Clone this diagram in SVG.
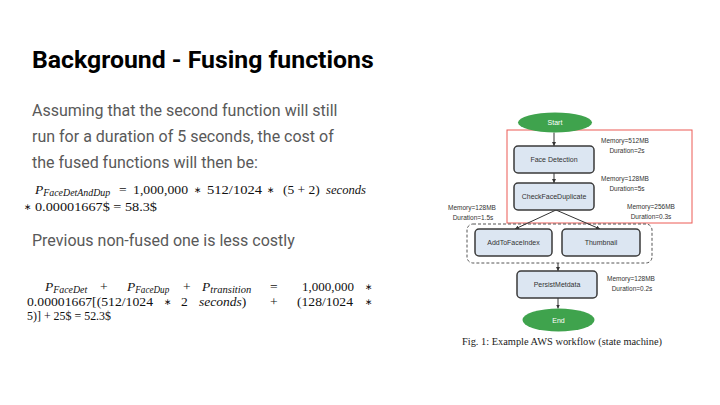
<svg xmlns="http://www.w3.org/2000/svg" width="720" height="405" viewBox="0 0 720 405">
<defs>
<marker id="ah" viewBox="0 0 6 6" refX="6" refY="3" markerWidth="4" markerHeight="4" orient="auto" markerUnits="userSpaceOnUse">
<path d="M0,0 L6,3 L0,6 z" fill="#333"/>
</marker>
<style>
.title{font-family:Roboto,"Liberation Sans",sans-serif;font-weight:bold;font-size:24.8px;fill:#000}
.body{font-family:Roboto,"Liberation Sans",sans-serif;font-size:16px;fill:#595959}
.eq{font-family:"Liberation Serif",serif;font-size:13.5px;fill:#111}
.st{font-family:"DejaVu Sans",sans-serif;font-size:9px;fill:#111}
.sub{font-family:"Liberation Serif",serif;font-style:italic;font-size:10px;fill:#111}
.it{font-style:italic}
.box{fill:#dce6f2;stroke:#3a3a3a;stroke-width:1.5}
.term{fill:#3fa34d}
.lbl{font-family:"Liberation Sans",sans-serif;font-size:7px;fill:#333;text-anchor:middle}
.wl{font-family:"Liberation Sans",sans-serif;font-size:7px;fill:#fff;text-anchor:middle}
.ml{font-family:"Liberation Sans",sans-serif;font-size:6.5px;fill:#333;text-anchor:middle}
.conn{stroke:#333;stroke-width:1;fill:none;marker-end:url(#ah)}
.cap{font-family:"Liberation Serif",serif;font-size:10px;fill:#222}
</style>
</defs>
<rect width="720" height="405" fill="#fff"/>
<text class="title" x="32" y="68">Background - Fusing functions</text>
<text class="body" x="32" y="116">Assuming that the second function will still</text>
<text class="body" x="32" y="142">run for a duration of 5 seconds, the cost of</text>
<text class="body" x="32" y="168">the fused functions will then be:</text>
<g id="eq1">
<text class="eq" x="35" y="194"><tspan class="it">P</tspan><tspan class="sub" dy="1.5" textLength="67" lengthAdjust="spacingAndGlyphs">FaceDetAndDup</tspan></text>
<text class="eq" x="119" y="194">=</text>
<text class="eq" x="133" y="194" textLength="55" lengthAdjust="spacingAndGlyphs">1,000,000</text>
<text class="st" x="194" y="193">∗</text>
<text class="eq" x="207" y="194" textLength="55" lengthAdjust="spacingAndGlyphs">512/1024</text>
<text class="st" x="267" y="193">∗</text>
<text class="eq" x="283" y="194">(5 + 2)</text>
<text class="eq it" x="326" y="194" textLength="40" lengthAdjust="spacingAndGlyphs">seconds</text>
<text class="st" x="24" y="210">∗</text>
<text class="eq" x="35" y="211" textLength="122" lengthAdjust="spacingAndGlyphs">0.00001667$ = 58.3$</text>
</g>
<text class="body" x="32" y="246">Previous non-fused one is less costly</text>
<g id="eq2">
<text class="eq" x="45" y="291"><tspan class="it">P</tspan><tspan class="sub" dy="1.5" textLength="34" lengthAdjust="spacingAndGlyphs">FaceDet</tspan></text>
<text class="eq" x="100" y="291">+</text>
<text class="eq" x="127" y="291"><tspan class="it">P</tspan><tspan class="sub" dy="1.5" textLength="34" lengthAdjust="spacingAndGlyphs">FaceDup</tspan></text>
<text class="eq" x="183" y="291">+</text>
<text class="eq" x="202" y="291"><tspan class="it">P</tspan><tspan class="sub" dy="1.5" textLength="41" lengthAdjust="spacingAndGlyphs">transition</tspan></text>
<text class="eq" x="270" y="291">=</text>
<text class="eq" x="302" y="291" textLength="52" lengthAdjust="spacingAndGlyphs">1,000,000</text>
<text class="st" x="365" y="290">∗</text>
<text class="eq" x="27" y="305.5" textLength="126" lengthAdjust="spacingAndGlyphs">0.00001667[(512/1024</text>
<text class="st" x="164" y="304.5">∗</text>
<text class="eq" x="181" y="305.5">2</text>
<text class="eq" x="199" y="305.5"><tspan class="it">seconds</tspan>)</text>
<text class="eq" x="270" y="305.5">+</text>
<text class="eq" x="297" y="305.5" textLength="56" lengthAdjust="spacingAndGlyphs">(128/1024</text>
<text class="st" x="365" y="304.5">∗</text>
<text class="eq" x="27" y="320" textLength="84" lengthAdjust="spacingAndGlyphs">5)] + 25$ = 52.3$</text>
</g>
<rect x="507" y="130" width="185" height="93" fill="none" stroke="#ec5a55" stroke-width="1"/>
<rect x="467" y="224" width="185" height="39" rx="6" fill="none" stroke="#555" stroke-width="1" stroke-dasharray="3,2"/>
<g id="connectors">
<line class="conn" x1="554" y1="132.5" x2="554" y2="146"/>
<line class="conn" x1="554" y1="173" x2="554" y2="183"/>
<line class="conn" x1="556" y1="210" x2="515" y2="229"/>
<line class="conn" x1="556" y1="210" x2="600" y2="229"/>
<line class="conn" x1="558" y1="263" x2="558" y2="271"/>
<line class="conn" x1="558" y1="298" x2="558" y2="308.5"/>
</g>
<g id="start"><ellipse class="term" cx="555" cy="122.5" rx="37" ry="10"/><text class="wl" x="555" y="125">Start</text></g>
<g id="faceDetection"><rect class="box" x="514" y="146" width="80" height="27" rx="4"/><text class="lbl" x="554" y="162">Face Detection</text></g>
<g id="checkFaceDuplicate"><rect class="box" x="514" y="183" width="80" height="27" rx="4"/><text class="lbl" x="554" y="199">CheckFaceDuplicate</text></g>
<g id="addToFaceIndex"><rect class="box" x="475" y="229" width="77" height="27" rx="4"/><text class="lbl" x="513.5" y="245">AddToFaceIndex</text></g>
<g id="thumbnail"><rect class="box" x="562" y="229" width="78" height="27" rx="4"/><text class="lbl" x="601" y="245">Thumbnail</text></g>
<g id="persistMetdata"><rect class="box" x="517" y="271" width="80" height="27" rx="4"/><text class="lbl" x="557" y="287">PersistMetdata</text></g>
<g id="end"><ellipse class="term" cx="558.5" cy="320" rx="36" ry="11.5"/><text class="wl" x="558.5" y="322.5">End</text></g>
<g id="labels">
<text class="ml" x="625" y="142.5">Memory=512MB</text>
<text class="ml" x="627" y="152.5">Duration=2s</text>
<text class="ml" x="625" y="180.5">Memory=128MB</text>
<text class="ml" x="627" y="190.5">Duration=5s</text>
<text class="ml" x="651" y="209">Memory=256MB</text>
<text class="ml" x="651" y="219">Duration=0.3s</text>
<text class="ml" x="472" y="209.5">Memory=128MB</text>
<text class="ml" x="473" y="219.5">Duration=1.5s</text>
<text class="ml" x="631" y="280.5">Memory=128MB</text>
<text class="ml" x="632" y="290.5">Duration=0.2s</text>
</g>
<text class="cap" x="462" y="345" textLength="200" lengthAdjust="spacingAndGlyphs">Fig. 1: Example AWS workflow (state machine)</text>
</svg>
